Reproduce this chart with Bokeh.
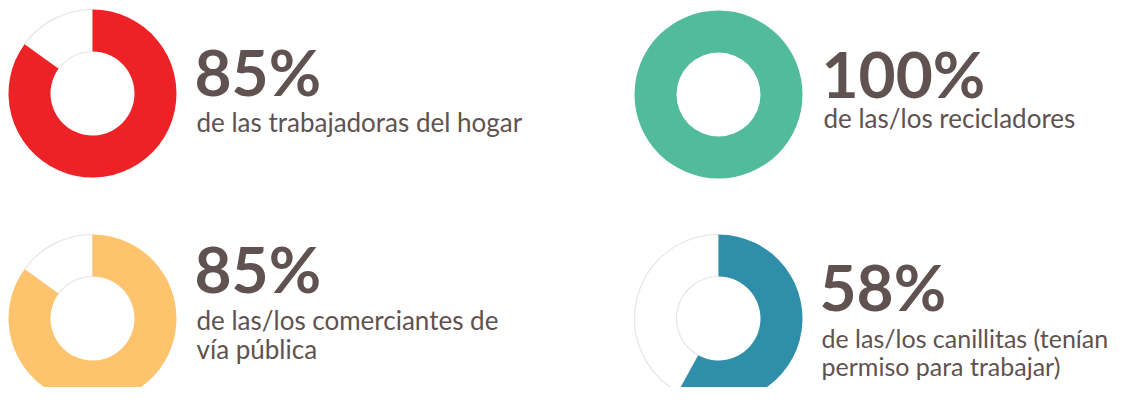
import math
from bokeh.plotting import figure
from bokeh.models import Range1d, ColumnDataSource
from bokeh.core.properties import value
from bokeh.embed import file_html
from bokeh.resources import INLINE

# ---- data ----
percent_labels = ["85%", "100%", "85%", "58%"]
percent_values = [85, 100, 85, 58]
ring_colors = ["#ed2227", "#52bb9c", "#fdc46d", "#2f8faa"]
descriptions = [
    ["de las trabajadoras del hogar"],
    ["de las/los recicladores"],
    ["de las/los comerciantes de", "vía pública"],
    ["de las/los canillitas (tenían", "permiso para trabajar)"],
]

# ---- layout (picture pixel coordinates) ----
W, H = 1118, 387
centers = [(92, 93), (718, 94), (92, 318), (718, 318)]
big_baselines = [95, 97, 292, 310]
sub_baselines = [[131], [127], [329, 358], [347, 375]]
text_x = [194, 821, 194, 819]
sub_sizes = ["26px", "26px", "26px", "25px"]
R_OUT, R_IN = 84, 42
TEXT_COLOR = "#5f5250"
BIG_SHIFT = 24   # calibration of rendered baseline
SUB_SHIFT = 10


def Y(py):
    return H - py


p = figure(width=W, height=H, output_backend="svg", toolbar_location=None,
           x_range=Range1d(0, W), y_range=Range1d(0, H),
           min_border=0, outline_line_color=None)
p.axis.visible = False
p.grid.visible = False
p.background_fill_color = "white"
p.border_fill_color = "white"

for i, v in enumerate(percent_values):
    cx, cy = centers[i]
    f = v / 100.0
    top = math.pi / 2
    if f < 1:
        p.annular_wedge(x=[cx], y=[Y(cy)], inner_radius=R_IN, outer_radius=R_OUT,
                        start_angle=top, end_angle=top + 2 * math.pi * (1 - f),
                        fill_color="white", line_color="#e6e6e6", line_width=1.2)
        p.annular_wedge(x=[cx], y=[Y(cy)], inner_radius=R_IN, outer_radius=R_OUT,
                        start_angle=top - 2 * math.pi * f, end_angle=top,
                        fill_color=ring_colors[i], line_color=None)
    else:
        p.annulus(x=[cx], y=[Y(cy)], inner_radius=R_IN, outer_radius=R_OUT,
                  fill_color=ring_colors[i], line_color=None)

big_src = ColumnDataSource(dict(x=text_x, y=[Y(b - BIG_SHIFT) for b in big_baselines],
                                t=percent_labels))
p.text(x="x", y="y", text="t", source=big_src, text_font=value("Lato"),
       text_font_size="64px", text_font_style="bold", text_color=TEXT_COLOR,
       text_baseline="alphabetic", text_align="left")

sx, sy, st, ss = [], [], [], []
for i, lines in enumerate(descriptions):
    for j, line in enumerate(lines):
        sx.append(text_x[i] + 2)
        sy.append(Y(sub_baselines[i][j] - SUB_SHIFT))
        st.append(line)
        ss.append(sub_sizes[i])
sub_src = ColumnDataSource(dict(x=sx, y=sy, t=st, s=ss))
p.text(x="x", y="y", text="t", source=sub_src, text_font=value("Lato"),
       text_font_size="s", text_color=TEXT_COLOR,
       text_baseline="alphabetic", text_align="left")

open("out.html", "w").write(file_html(p, INLINE))
